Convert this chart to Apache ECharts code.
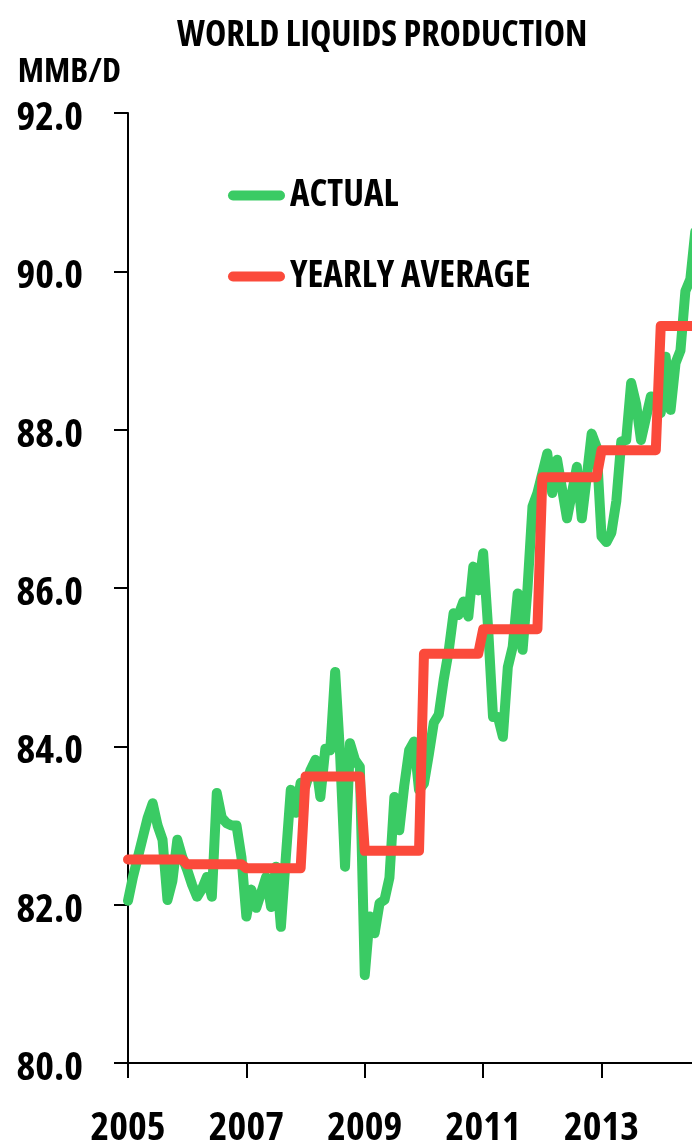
<!DOCTYPE html>
<html><head><meta charset="utf-8">
<script src="https://cdn.jsdelivr.net/npm/echarts@6/dist/echarts.min.js"></script>
<style>html,body{margin:0;padding:0;overflow:hidden;background:#fff;width:692px;height:1147px}#c{width:740px;height:1147px}</style>
</head><body><div id="c"></div>
<script>
// Monthly world liquids production (MMB/D), Jan 2005 onward
const startYear = 2005;
const actual2005 = [82.05, 82.35, 82.6, 82.85, 83.1, 83.28, 83.0, 82.82, 82.06, 82.3, 82.82, 82.6];
const actual2006 = [82.44, 82.25, 82.1, 82.2, 82.35, 82.1, 83.41, 83.1, 83.03, 83.0, 83.0, 82.6];
const actual2007 = [81.85, 82.19, 81.96, 82.15, 82.35, 81.97, 82.48, 81.72, 82.6, 83.45, 83.16, 83.54];
const actual2008 = [83.5, 83.7, 83.83, 83.36, 83.97, 83.95, 84.94, 83.9, 82.48, 84.04, 83.83, 83.74];
const actual2009 = [81.11, 81.85, 81.64, 82.02, 82.06, 82.34, 83.36, 82.94, 83.5, 83.95, 84.06, 83.45];
const actual2010 = [83.53, 83.9, 84.3, 84.4, 84.84, 85.2, 85.68, 85.66, 85.83, 85.64, 86.27, 85.97];
const actual2011 = [86.44, 85.5, 84.37, 84.37, 84.12, 85.0, 85.26, 85.93, 85.22, 86.0, 87.03, 87.2];
const actual2012 = [87.45, 87.7, 87.2, 87.62, 87.25, 86.88, 87.2, 87.53, 86.88, 87.4, 87.95, 87.78];
const actual2013 = [86.65, 86.58, 86.7, 87.1, 87.85, 87.87, 88.59, 88.33, 87.87, 88.15, 88.42, 88.37];
const actual2014 = [88.21, 88.92, 88.25, 88.84, 89.0, 89.75, 89.9, 90.5];
const actualByYear = [actual2005, actual2006, actual2007, actual2008, actual2009, actual2010, actual2011, actual2012, actual2013, actual2014];

const avgYears = [2005, 2006, 2007, 2008, 2009, 2010, 2011, 2012, 2013, 2014];
const yearlyAverage = [82.57, 82.51, 82.46, 83.62, 82.68, 85.17, 85.48, 87.40, 87.74, 89.31];

const actualData = [];
actualByYear.forEach((arr, yi) => arr.forEach((v, m) => actualData.push([startYear + yi + m / 12, v])));
const avgData = [];
avgYears.forEach((y, i) => { for (let m = 0; m < 12; m++) avgData.push([y + m / 12, yearlyAverage[i]]); });

const FONT = "'Open Sans', 'Liberation Sans', sans-serif";
const txt = (size) => ({fontFamily: FONT, fontStyle: 'condensed', fontWeight: 'bold', fontSize: size, color: '#000'});
const chart = echarts.init(document.getElementById('c'), null, {renderer: 'canvas'});
chart.setOption({
  animation: false,
  backgroundColor: '#fff',
  title: {
    text: 'WORLD LIQUIDS PRODUCTION', left: 177, top: 18, padding: 0,
    textStyle: txt(36)
  },
  legend: {
    orient: 'vertical', left: 228, top: 177, padding: 0, itemGap: 44,
    itemWidth: 57, itemHeight: 10,
    icon: 'path://M5,0 L52,0 A5,5 0 0 1 52,10 L5,10 A5,5 0 0 1 5,0 Z',
    textStyle: txt(37),
    data: ['ACTUAL', 'YEARLY AVERAGE']
  },
  grid: {left: 128, top: 113, right: 26, bottom: 84, containLabel: false, outerBoundsMode: 'none'},
  xAxis: {
    type: 'value', min: 2005, max: 2014.9, interval: 2,
    axisLine: {onZero: false, lineStyle: {color: '#000', width: 2}},
    axisTick: {show: true, length: 15, lineStyle: {color: '#000', width: 2}},
    splitLine: {show: false},
    axisLabel: Object.assign({margin: 46, showMaxLabel: false, formatter: v => String(Math.round(v))}, txt(40))
  },
  yAxis: {
    type: 'value', min: 80, max: 92, interval: 2,
    name: 'MMB/D', nameLocation: 'end', nameGap: 24,
    nameTextStyle: Object.assign({align: 'right', padding: [0, 7, 0, 0]}, txt(34)),
    axisLine: {show: true, lineStyle: {color: '#000', width: 2}},
    axisTick: {show: true, length: 14, lineStyle: {color: '#000', width: 2}},
    splitLine: {show: false},
    axisLabel: Object.assign({margin: 45, verticalAlign: 'top', lineHeight: 11, formatter: v => v.toFixed(1)}, txt(40))
  },
  series: [
    {name: 'ACTUAL', type: 'line', data: actualData, showSymbol: false, symbol: 'none',
     itemStyle: {color: '#3acb64'},
     lineStyle: {color: '#3acb64', width: 10, cap: 'round', join: 'round'}},
    {name: 'YEARLY AVERAGE', type: 'line', data: avgData, showSymbol: false, symbol: 'none',
     itemStyle: {color: '#fb4a3b'},
     lineStyle: {color: '#fb4a3b', width: 10, cap: 'round', join: 'round'}}
  ]
});
</script></body></html>
